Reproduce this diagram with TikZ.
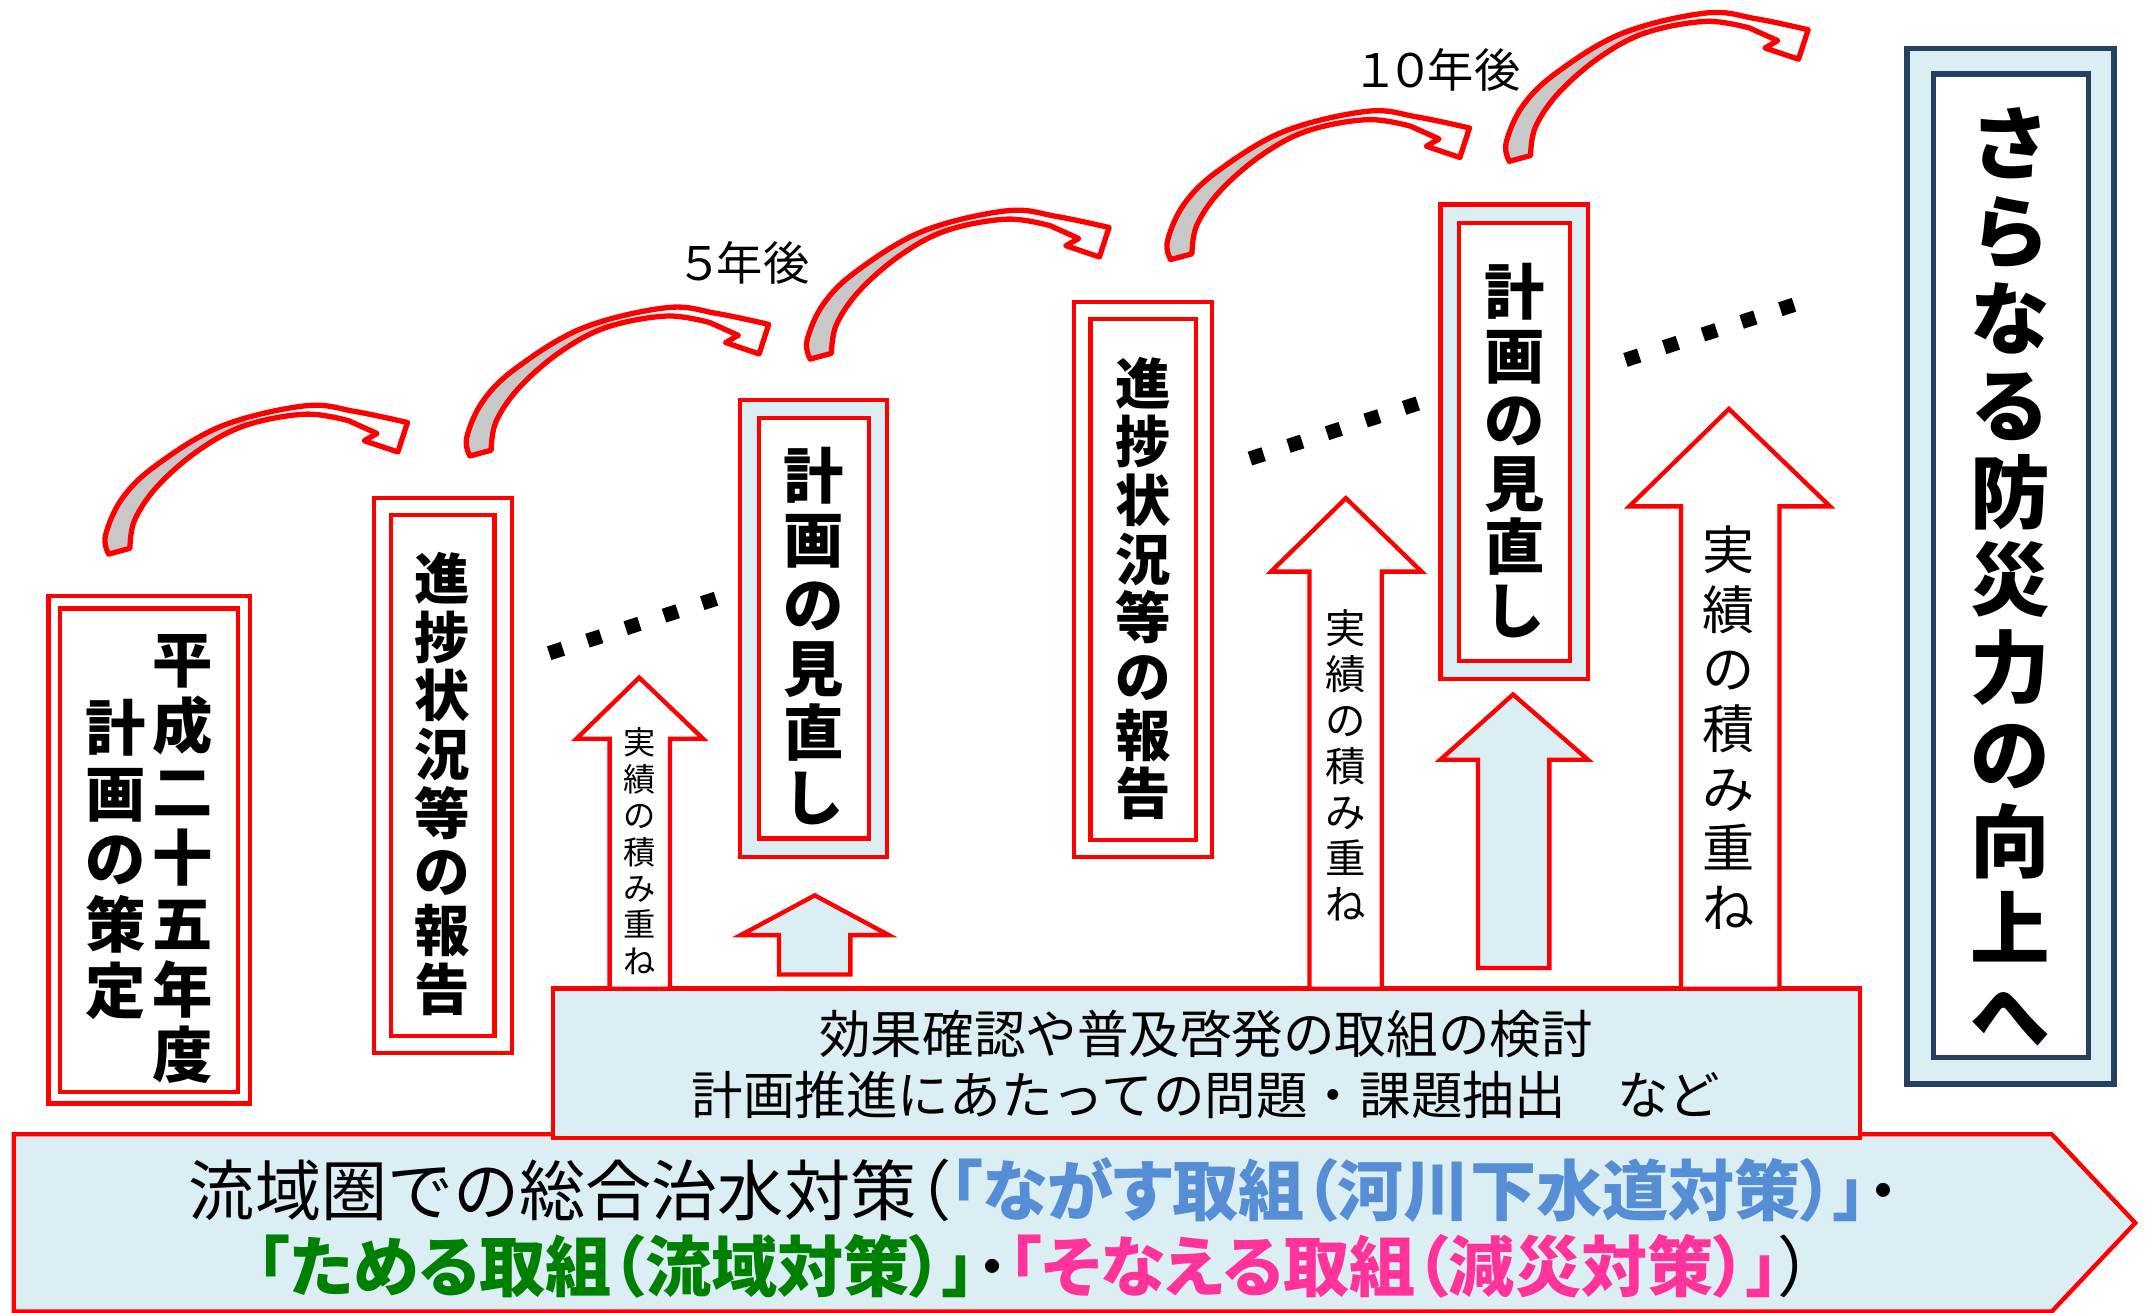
\documentclass[tikz,border=0pt]{standalone}
\usepackage{fontspec}
\newfontfamily\jp{Noto Sans CJK JP}
\newfontfamily\jpp{Noto Sans CJK JP}[RawFeature=+palt]
\usetikzlibrary{calc}
\definecolor{lblue}{HTML}{DAEEF3}
\definecolor{navy}{HTML}{254061}
\definecolor{cgray}{HTML}{C8C8C8}
\definecolor{tblue}{HTML}{558ED5}
\definecolor{tgreen}{HTML}{008000}
\definecolor{tpink}{HTML}{FF3399}
\newcommand{\cbandpath}{plot[smooth,tension=0.6] coordinates {(0,0) (-2.4,-13.4) (9.5,-40.1) (34.1,-64.4) (82.4,-93.4) (143.5,-108.2) (180,-104) (218,-96)} -- (211,-74.5) -- (186.5,-82.7) -- (195.8,-88) -- plot[smooth,tension=0.6] coordinates {(175.1,-97.3) (143.5,-102.1) (100,-94) (66,-76) (36,-50) (19,-25) (15.5,-4.2)} -- cycle}
\tikzset{
  redbox/.style={draw=red, line width=0.9pt, fill=white, inner sep=0pt},
  bluebox/.style={draw=red, line width=0.9pt, fill=lblue, inner sep=0pt},
  navybox/.style={draw=navy, line width=1.1pt, inner sep=0pt},
  vbold/.style={font=\jp\bfseries, align=center, inner sep=0pt},
  vreg/.style={font=\jp, align=center, inner sep=0pt},
  sqdot/.style={fill=black, minimum size=0.105cm, inner sep=0pt, rotate=18},
  blockarrow/.style={draw=red, line width=0.9pt, line join=miter},
  carrow/.pic={
    \fill[white] \cbandpath;
    \begin{scope}
      \clip \cbandpath;
      \fill[cgray] (-20,20) rectangle (100,-130);
    \end{scope}
    \draw[red, line width=1.1pt, line join=round] \cbandpath;
  }
}
\begin{document}
\begin{tikzpicture}[x=0.01cm,y=-0.01cm]
\useasboundingbox (0,0) rectangle (1568,958);

% bottom band
\draw[red, line width=0.9pt, fill=lblue] (10,827.6) -- (1497,827.6) -- (1558,892.3) -- (1497,957) -- (10,957) -- cycle;
\node[font=\jpp\fontsize{13.72pt}{16pt}\selectfont, inner sep=0pt] (band1) at (762,868)
  {{\jp 流域圏での総合治水対策}（{\color{tblue}\bfseries 「ながす取組（河川下水道対策）」}・};
\node[font=\jpp\fontsize{13.72pt}{16pt}\selectfont, inner sep=0pt] (band2) at (755,924)
  {{\color{tgreen}\bfseries 「ためる取組（流域対策）」}・{\color{tpink}\bfseries 「そなえる取組（減災対策）」}）};

% middle box
\node[bluebox, minimum width=9.531cm, minimum height=1.091cm] (mid) at (880.45,775.95) {};
\node[vreg, font=\jp\fontsize{10.7pt}{12.66pt}\selectfont] (midtext) at (880,777)
  {効果確認や普及啓発の取組の検討\\計画推進にあたっての問題・課題抽出　など};

% block arrows
\draw[blockarrow, fill=white] (466.4,494.4) -- (513,539) -- (488.8,539) -- (488.8,721.4) -- (444.8,721.4) -- (444.8,539) -- (420.6,539) -- cycle;
\draw[blockarrow, fill=lblue] (594.5,653.3) -- (648.5,682.3) -- (620.5,682.3) -- (620.5,711) -- (568.4,711) -- (568.4,682.3) -- (540.5,682.3) -- cycle;
\draw[blockarrow, fill=white] (982,363.5) -- (1037.3,417.1) -- (1008.2,417.1) -- (1008.2,721.4) -- (955.5,721.4) -- (955.5,417.1) -- (927.4,417.1) -- cycle;
\draw[blockarrow, fill=lblue] (1104,506.7) -- (1158.6,554.3) -- (1130.5,554.3) -- (1130.5,706.3) -- (1078.4,706.3) -- (1078.4,554.3) -- (1051,554.3) -- cycle;
\draw[blockarrow, fill=white] (1261.5,298.4) -- (1335.3,369.5) -- (1298.4,369.5) -- (1298.4,721.4) -- (1226.5,721.4) -- (1226.5,369.5) -- (1188.8,369.5) -- cycle;

\node[vreg, font=\jp\fontsize{6.69pt}{7.57pt}\selectfont] (a1) at (466.8,621) {実\\績\\の\\積\\み\\重\\ね};
\node[vreg, font=\jp\fontsize{8.39pt}{9.53pt}\selectfont] (a3) at (982,558.4) {実\\績\\の\\積\\み\\重\\ね};
\node[vreg, font=\jp\fontsize{10.81pt}{12.38pt}\selectfont] (a5) at (1261.5,531) {実\\績\\の\\積\\み\\重\\ね};

% box 1
\node[redbox, minimum width=1.47cm, minimum height=3.702cm] (b1o) at (108.9,619.9) {};
\node[redbox, minimum width=1.296cm, minimum height=3.524cm] (b1i) at (108.7,620.3) {};
\node[vbold, font=\jp\bfseries\fontsize{12.52pt}{13.66pt}\selectfont] (b1r) at (133.3,627) {平\\成\\二\\十\\五\\年\\度};
\node[vbold, font=\jp\bfseries\fontsize{12.52pt}{13.66pt}\selectfont] (b1l) at (84.1,627) {計\\画\\の\\策\\定};

% box 2
\node[redbox, minimum width=1.005cm, minimum height=4.05cm] (b2o) at (323.15,565.8) {};
\node[redbox, minimum width=0.756cm, minimum height=3.80cm] (b2i) at (322.9,566) {};
\node[vbold, font=\jp\bfseries\fontsize{11.52pt}{12.18pt}\selectfont] (b2t) at (323,572) {進\\捗\\状\\況\\等\\の\\報\\告};

% box 3
\node[bluebox, minimum width=1.075cm, minimum height=3.331cm] (b3o) at (593.55,458.75) {};
\node[redbox, minimum width=0.804cm, minimum height=3.063cm] (b3i) at (593.8,458.45) {};
\node[vbold, font=\jp\bfseries\fontsize{12.52pt}{13.37pt}\selectfont] (b3t) at (593.4,464) {計\\画\\の\\見\\直\\し};

% box 4
\node[redbox, minimum width=1.007cm, minimum height=4.048cm] (b4o) at (834.15,422.9) {};
\node[redbox, minimum width=0.768cm, minimum height=3.797cm] (b4i) at (834.2,422.75) {};
\node[vbold, font=\jp\bfseries\fontsize{11.52pt}{12.18pt}\selectfont] (b4t) at (833.9,429.4) {進\\捗\\状\\況\\等\\の\\報\\告};

% box 5
\node[bluebox, minimum width=1.076cm, minimum height=3.46cm] (b5o) at (1104.8,322.4) {};
\node[redbox, minimum width=0.808cm, minimum height=3.193cm] (b5i) at (1104.9,322.45) {};
\node[vbold, font=\jp\bfseries\fontsize{12.52pt}{13.23pt}\selectfont] (b5t) at (1105,328.9) {計\\画\\の\\見\\直\\し};

% box 6
\node[navybox, fill=lblue, minimum width=1.51cm, minimum height=7.55cm] (b6o) at (1467,413.3) {};
\node[navybox, fill=white, minimum width=1.126cm, minimum height=7.17cm] (b6i) at (1467.3,412.8) {};
\node[vbold, font=\jp\bfseries\fontsize{16.5pt}{18.1pt}\selectfont] (b6t) at (1467,421) {さ\\ら\\な\\る\\防\\災\\力\\の\\向\\上\\へ};

% dotted lines
\coordinate (d1a) at (405.7,475); \coordinate (d1b) at (517.4,438.5);
\coordinate (d2a) at (917,333);   \coordinate (d2b) at (1029.5,296);
\coordinate (d3a) at (1191,261);  \coordinate (d3b) at (1304,224);
\foreach \i in {0,...,4} {
  \node[sqdot] (d1-\i) at ($(d1a)!\i/4!(d1b)$) {};
  \node[sqdot] (d2-\i) at ($(d2a)!\i/4!(d2b)$) {};
  \node[sqdot] (d3-\i) at ($(d3a)!\i/4!(d3b)$) {};
}

% labels
\node[font=\jpp\fontsize{9.6pt}{11pt}\selectfont, inner sep=0pt] (l5) at (544,192) {５年後};
\node[font=\jpp\fontsize{9.6pt}{11pt}\selectfont, inner sep=0pt] (l10) at (1050,51) {１０年後};

% curved arrows
\pic (c1) at (79.3,404.3) {carrow};
\pic (c2) at (342.9,332.7) {carrow};
\pic (c3) at (591.2,262) {carrow};
\pic (c4) at (854.2,189.4) {carrow};
\pic (c5) at (1101.3,117.7) {carrow};
\end{tikzpicture}
\end{document}
